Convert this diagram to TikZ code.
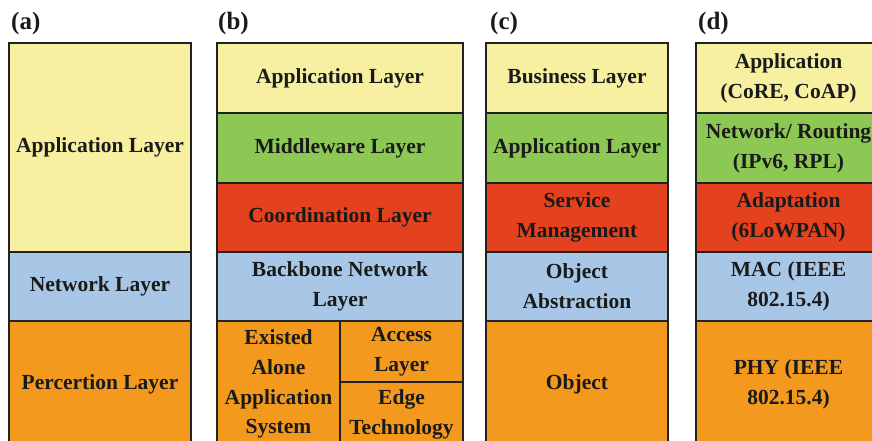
\documentclass[tikz,border=0pt]{standalone}
\usepackage{fontspec}
\setmainfont{Liberation Serif}
\definecolor{cyel}{HTML}{F6F0A0}
\definecolor{cgrn}{HTML}{8DC855}
\definecolor{cred}{HTML}{E4411F}
\definecolor{cblu}{HTML}{A8C7E6}
\definecolor{corg}{HTML}{F39A1E}
\definecolor{edge}{HTML}{222222}
\definecolor{ink}{HTML}{1A1A1A}
\newcommand\cellbox[7]{%
  \node[cell, fill=#6, minimum width={(#4-#2)*1pt}, minimum height={(#5-#3)*1pt}, anchor=north west] (#1) at (#2,#3) {#7};}
\tikzset{
  cell/.style={draw=edge, line width=2pt, align=center, inner sep=0pt, text=ink,
    font=\bfseries\fontsize{21.5}{29.8}\selectfont},
  paneltag/.style={anchor=west, inner sep=0pt, text=ink, font=\bfseries\fontsize{25}{27}\selectfont}
}
\begin{document}
\begin{tikzpicture}[x=1pt,y=-1pt]
\useasboundingbox (0,0) rectangle (872,440);
\clip (0,0) rectangle (872,440);
% panel labels
\node[paneltag] (ta) at (11,23) {(a)};
\node[paneltag] (tb) at (218,23) {(b)};
\node[paneltag] (tc) at (490,23) {(c)};
\node[paneltag] (td) at (698,23) {(d)};
% (a)
\cellbox{a1}{8}{42}{190}{251}{cyel}{Application Layer}
\cellbox{a2}{8}{251}{190}{320}{cblu}{Network Layer}
\cellbox{a3}{8}{320}{190}{446}{corg}{Percertion Layer}
% (b)
\cellbox{b1}{216}{42}{462}{112}{cyel}{Application Layer}
\cellbox{b2}{216}{112}{462}{182}{cgrn}{Middleware Layer}
\cellbox{b3}{216}{182}{462}{251}{cred}{Coordination Layer}
\cellbox{b4}{216}{251}{462}{320}{cblu}{Backbone Network\\Layer}
\cellbox{b5}{216}{320}{339}{446}{corg}{Existed\\Alone\\Application\\System}
\cellbox{b6}{339}{320}{462}{381}{corg}{Access\\Layer}
\cellbox{b7}{339}{381}{462}{446}{corg}{Edge\\Technology}
% (c)
\cellbox{c1}{485}{42}{667}{112}{cyel}{Business Layer}
\cellbox{c2}{485}{112}{667}{182}{cgrn}{Application Layer}
\cellbox{c3}{485}{182}{667}{251}{cred}{Service\\Management}
\cellbox{c4}{485}{251}{667}{320}{cblu}{Object\\Abstraction}
\cellbox{c5}{485}{320}{667}{446}{corg}{Object}
% (d)
\cellbox{d1}{695}{42}{880}{112}{cyel}{Application\\(CoRE, CoAP)}
\cellbox{d2}{695}{112}{880}{182}{cgrn}{Network/ Routing\\(IPv6, RPL)}
\cellbox{d3}{695}{182}{880}{251}{cred}{Adaptation\\(6LoWPAN)}
\cellbox{d4}{695}{251}{880}{320}{cblu}{MAC (IEEE\\802.15.4)}
\cellbox{d5}{695}{320}{880}{446}{corg}{PHY (IEEE\\802.15.4)}
\end{tikzpicture}
\end{document}
